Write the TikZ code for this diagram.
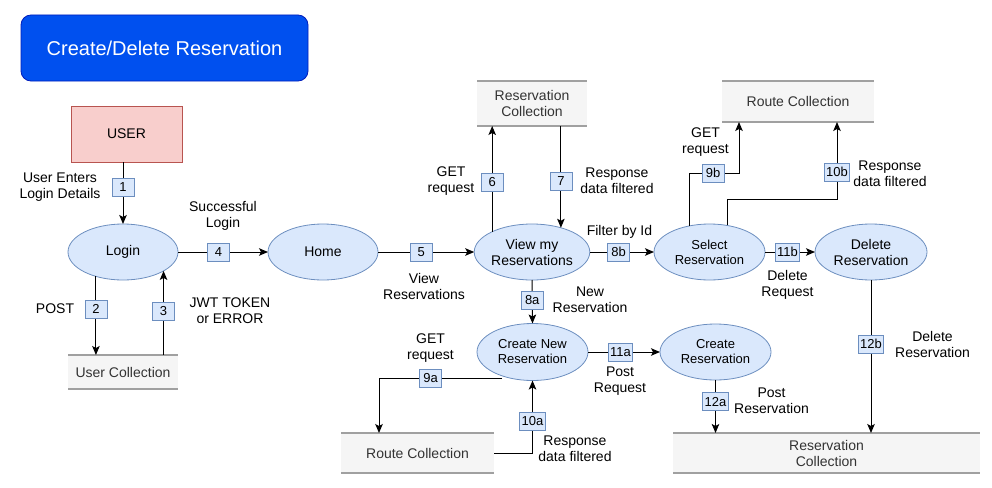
\documentclass[tikz,border=0pt]{standalone}
\usepackage{fontspec}
\setmainfont{Liberation Sans}
\usetikzlibrary{shapes.geometric,arrows.meta}
\definecolor{bfill}{HTML}{DAE8FC}
\definecolor{bline}{HTML}{6C8EBF}
\definecolor{rfill}{HTML}{F8CECC}
\definecolor{rline}{HTML}{B85450}
\definecolor{gfill}{HTML}{F5F5F5}
\definecolor{gline}{HTML}{A0A0A0}
\definecolor{gtext}{HTML}{333333}
\definecolor{tfill}{HTML}{0050EF}
\definecolor{tline}{HTML}{001DBC}
\begin{document}
\begin{tikzpicture}[x=1pt,y=-1pt,
  proc/.style={ellipse, draw=bline, fill=bfill, line width=0.8pt, minimum width=110pt, minimum height=56pt, inner sep=0pt, outer sep=0pt, align=center, font=\fontsize{14}{16}\selectfont},
  procs/.style={proc, font=\fontsize{13}{15}\selectfont},
  coll/.style={fill=gfill, inner sep=0pt, outer sep=0pt, align=center, text=gtext, font=\fontsize{14}{16}\selectfont},
  colline/.style={draw=gline, line width=1.5pt},
  num/.style={draw=bline, fill=bfill, line width=0.8pt, minimum width=22pt, minimum height=18pt, inner sep=2pt, font=\fontsize{13}{14}\selectfont},
  lbl/.style={align=center, inner sep=0pt, font=\fontsize{14}{16}\selectfont},
  arr/.style={draw=black, line width=1pt, -{Stealth[length=9pt,width=7.5pt,inset=2pt]}},
  titlebox/.style={rounded corners=10pt, fill=tfill, draw=tline, line width=0.8pt, minimum width=287pt, minimum height=66pt, text=white, font=\fontsize{20}{24}\selectfont}
]
\useasboundingbox (0,0) rectangle (992,487);

% title
\node[titlebox] (ttl) at (164.5,48) {Create/Delete Reservation};

% user
\node[draw=rline, fill=rfill, line width=0.8pt, minimum width=111pt, minimum height=56pt, font=\fontsize{14}{16}\selectfont] (user) at (126.5,134) {USER};

% processes
\node[proc] (login) at (123,252) {Login};
\node[proc] (home) at (323,252) {Home};
\node[proc] (view) at (532,252) {View my\\Reservations};
\node[procs, minimum width=111pt] (sel) at (709.5,252) {Select\\Reservation};
\node[proc, minimum width=112pt] (del) at (871,252) {Delete\\Reservation};
\node[procs, minimum width=111pt, minimum height=57pt] (cn) at (532.5,352) {Create New\\Reservation};
\node[procs, minimum width=111pt] (cr) at (715.5,352) {Create\\Reservation};

% collections
\node[coll, minimum width=110pt, minimum height=34pt] (uc) at (123,372) {User Collection};
\node[coll, minimum width=110pt, minimum height=45pt] (rc1) at (532,103.5) {Reservation\\Collection};
\node[coll, minimum width=152pt, minimum height=41pt] (rt1) at (798,101.5) {Route Collection};
\node[coll, minimum width=153pt, minimum height=40pt] (rt2) at (417.5,453) {Route Collection};
\node[coll, minimum width=307pt, minimum height=40pt] (rc2) at (826.5,453) {Reservation\\Collection};
\foreach \n in {uc,rc1,rt1,rt2,rc2} {
  \draw[colline] (\n.north west) -- (\n.north east);
  \draw[colline] (\n.south west) -- (\n.south east);
}

% helper coordinates
\coordinate (c9b) at (739,173);
\coordinate (c10b) at (837,199);
\coordinate (c9a) at (502,378);
\coordinate (c9aend) at (379,433);

% connectors
\draw[arr] (login.north |- user.south) -- node[num,pos=0.4]{1} (login.north);
\draw[arr] (login.222) -- node[num,pos=0.42]{2} (login.222 |- uc.north);
\draw[arr] (login.-25.6 |- uc.north) -- node[num,pos=0.52]{3} (login.-25.6);
\draw[arr] (login.east) -- node[num,pos=0.45]{4} (home.west);
\draw[arr] (home.east) -- node[num,pos=0.45]{5} (view.west);
\draw[arr] (view.153.6) -- node[num,pos=0.47]{6} (view.153.6 |- rc1.south);
\draw[arr] (view.40.2 |- rc1.south) -- node[num,pos=0.54]{7} (view.40.2);
\draw[arr] (view.east) -- node[num,pos=0.45]{8b} (sel.west);
\draw[arr] (view.south) -- node[num,pos=0.46]{8a} (cn.north);
\draw[arr] (sel.128.3) |- node[num,pos=0.74]{9b} (c9b) -- (c9b |- rt1.south);
\draw[arr] (sel.56.6) |- (c10b) -- node[num,pos=0.35]{10b} (c10b |- rt1.south);
\draw[arr] (sel.east) -- node[num,pos=0.45]{11b} (del.west);
\draw[arr] (del.south) -- node[num,pos=0.42]{12b} (del.south |- rc2.north);
\draw[arr] (cn.east) -- node[num,pos=0.45]{11a} (cr.west);
\draw[arr] (c9a) -| node[num,pos=0.29]{9a} (c9aend);
\draw[arr] (rt2.east) -| node[num,pos=0.72]{10a} (cn.south);
\draw[arr] (cr.south) -- node[num,pos=0.41]{12a} (cr.south |- rc2.north);

% labels
\node[lbl] (l1) at (60,187) {User Enters\\Login Details};
\node[lbl] (l4) at (223,216) {Successful\\Login};
\node[lbl] (l2) at (55,309) {POST};
\node[lbl] (l3) at (230,311) {JWT TOKEN\\or ERROR};
\node[lbl] (l5) at (424,286) {View\\Reservations};
\node[lbl] (l6) at (451,181.5) {GET\\request};
\node[lbl] (l7) at (617,181) {Response\\data filtered};
\node[lbl] (l8b) at (619.5,232) {Filter by Id};
\node[lbl] (l8a) at (590,299.5) {New\\Reservation};
\node[lbl] (l9b) at (705.5,142) {GET\\request};
\node[lbl] (l10b) at (890,173.5) {Response\\data filtered};
\node[lbl] (l11b) at (787.5,284.5) {Delete\\Request};
\node[lbl] (l12b) at (932.5,344.5) {Delete\\Reservation};
\node[lbl] (l9a) at (430.5,348) {GET\\request};
\node[lbl] (l11a) at (620,381) {Post\\Request};
\node[lbl] (l10a) at (575,449) {Response\\data filtered};
\node[lbl] (l12a) at (771.5,400.5) {Post\\Reservation};
\end{tikzpicture}
\end{document}
